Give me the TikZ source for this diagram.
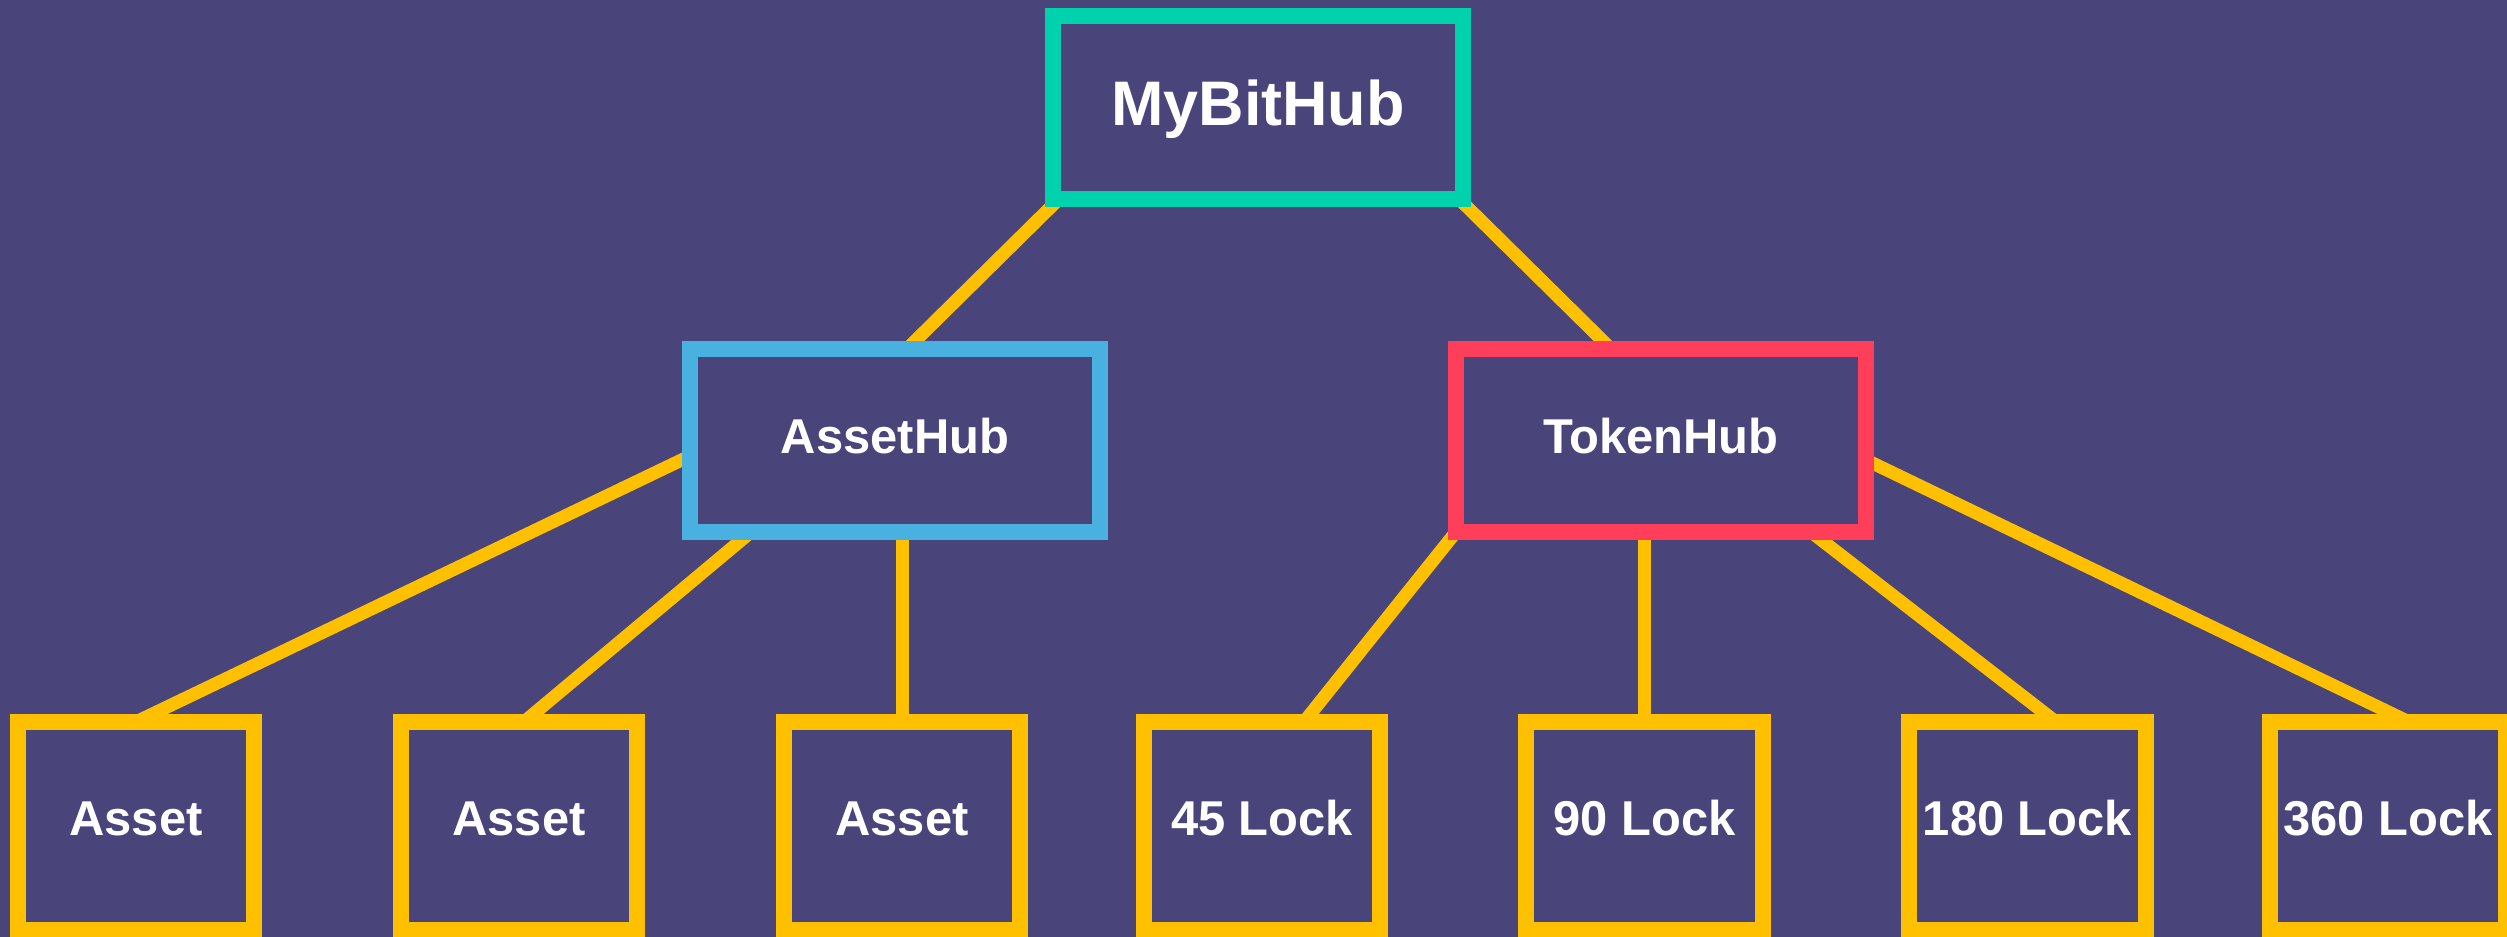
\documentclass[tikz,border=0pt]{standalone}
\usepackage{fontspec}
\setmainfont{Liberation Sans}
\usetikzlibrary{calc}
\definecolor{bgc}{HTML}{49457B}
\definecolor{grn}{HTML}{00D2AE}
\definecolor{blu}{HTML}{48B1E0}
\definecolor{rd}{HTML}{FF3F5A}
\definecolor{yel}{HTML}{FFC000}
\pgfdeclarelayer{back}
\pgfsetlayers{back,main}
\tikzset{
  box/.style={draw, line width=0.16cm, fill=bgc, inner sep=0pt, outer sep=0pt, text=white},
  topbox/.style={box, draw=grn, minimum width=4.1cm, minimum height=1.83cm,
    font=\fontsize{17.9pt}{20pt}\selectfont\bfseries, text height=0.45cm, text depth=0.1cm},
  hubbox/.style={box, minimum width=4.1cm, minimum height=1.83cm,
    font=\fontsize{13.9pt}{16pt}\selectfont\bfseries, text height=0.35cm, text depth=0.1cm},
  leafbox/.style={box, draw=yel, minimum width=2.36cm, minimum height=2.08cm,
    font=\fontsize{13.9pt}{16pt}\selectfont\bfseries, text height=0.35cm, text depth=0.17cm},
  conn/.style={draw=yel, line width=0.13cm}
}
\begin{document}
\begin{tikzpicture}[x=0.01cm,y=-0.01cm]
\useasboundingbox (0,0) rectangle (2507,937);
\node[topbox] (mb) at (1258,107.5) {MyBitHub};
\node[hubbox, draw=blu] (ah) at (895,440.5) {AssetHub};
\node[hubbox, draw=rd] (th) at (1661,440.5) {TokenHub};
\node[leafbox] (a1) at (136,826) {Asset};
\node[leafbox] (a2) at (519,826) {Asset};
\node[leafbox] (a3) at (902,826) {Asset};
\node[leafbox] (l45) at (1262,826) {45 Lock};
\node[leafbox] (l90) at (1644.5,826) {90 Lock};
\node[leafbox] (l180) at (2027.5,826) {180 Lock};
\node[leafbox] (l360) at (2388,826) {360 Lock};
\begin{pgfonlayer}{back}
\fill[bgc] (0,0) rectangle (2507,937);
\draw[conn] ($(mb.south west)+(6,0)$) -- ($(ah.north)+(12,0)$);
\draw[conn] ($(mb.south east)+(-4,0)$) -- ($(th.north)+(-50,0)$);
\draw[conn] ($(ah.west)+(0,15.5)$) -- (a1.north);
\draw[conn] ($(ah.south west)+(61,0)$) -- ($(a2.north)+(5,0)$);
\draw[conn] (a3.north) -- (a3.north |- ah.south);
\draw[conn] (th.south west) -- ($(l45.north)+(42,0)$);
\draw[conn] (l90.north) -- (l90.north |- th.south);
\draw[conn] ($(th.south east)+(-55,0)$) -- ($(l180.north)+(28.5,0)$);
\draw[conn] ($(th.east)+(0,19.5)$) -- ($(l360.north)+(21,0)$);
\end{pgfonlayer}
\end{tikzpicture}
\end{document}
